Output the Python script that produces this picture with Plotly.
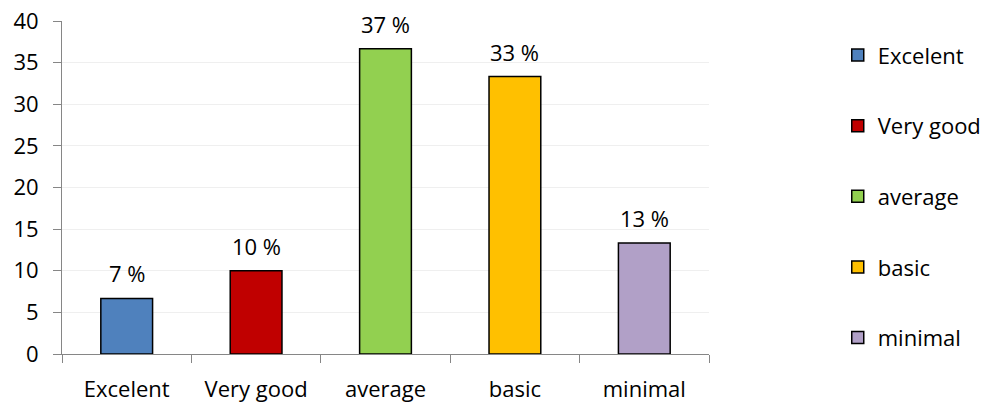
import plotly.graph_objects as go

# Survey results: share of respondents per rating level
categories = ["Excelent", "Very good", "average", "basic", "minimal"]
percentages = [6.67, 10.0, 36.67, 33.33, 13.33]
bar_colors = ["#4F81BD", "#C00000", "#92D050", "#FFC000", "#B1A0C7"]
y_ticks = [0, 5, 10, 15, 20, 25, 30, 35, 40]

FONT = "Open Sans"
FONT_SIZE = 22
AXIS_GREY = "#868686"

fig = go.Figure()
for cat, val, col in zip(categories, percentages, bar_colors):
    fig.add_trace(go.Bar(
        x=[cat], y=[val], name=cat, legendgroup=cat,
        marker=dict(color=col, line=dict(color="#000000", width=1.5)),
        width=0.4,
    ))
    fig.add_annotation(
        x=cat, y=val, text=f"{round(val)} %", showarrow=False,
        yanchor="middle", yshift=25,
        font=dict(family=FONT, size=FONT_SIZE, color="#000000"),
    )

fig.update_layout(
    width=988, height=402,
    margin=dict(l=62, r=279, t=21, b=48, autoexpand=False),
    paper_bgcolor="white", plot_bgcolor="white",
    barmode="overlay",
    font=dict(family=FONT, size=FONT_SIZE, color="#000000"),
    legend=dict(
        x=1.199, xanchor="left", y=0.96, yanchor="top",
        tracegroupgap=39, itemwidth=30, maxheight=1,
        font=dict(family=FONT, size=FONT_SIZE, color="#000000"),
        bgcolor="rgba(0,0,0,0)",
    ),
    xaxis=dict(
        type="category", categoryarray=categories,
        showline=True, linecolor=AXIS_GREY, linewidth=1,
        ticks="outside", tickson="boundaries", ticklen=8, tickcolor=AXIS_GREY,
        ticklabelstandoff=16,
        showgrid=False, tickfont=dict(size=FONT_SIZE),
    ),
    yaxis=dict(
        range=[0, 40], tickvals=y_ticks,
        showline=True, linecolor=AXIS_GREY, linewidth=1,
        ticks="outside", ticklen=8, tickcolor=AXIS_GREY,
        ticklabelstandoff=10,
        gridcolor="#EFEFEF", gridwidth=1, zeroline=False,
        tickfont=dict(size=FONT_SIZE),
    ),
)

fig.write_html("out.html")
